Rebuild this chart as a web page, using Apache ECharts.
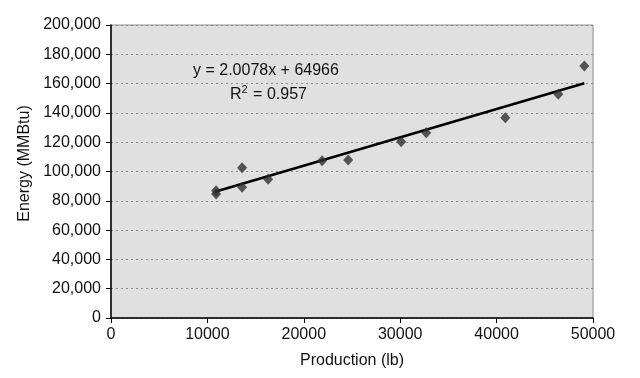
<!DOCTYPE html>
<html>
<head>
	<meta charset="utf-8"/>
	<title>Energy vs Production</title>
	<style>
		html, body { margin: 0; padding: 0; background: #fff; }
		#chart { width: 640px; height: 378px; }
	</style>
</head>
<body>
	<div id="chart"></div>
	<script src="https://cdn.jsdelivr.net/npm/echarts@6/dist/echarts.min.js"></script>
	<script>
		// values
		var productionLb = [10900, 10900, 13600, 13600, 16300, 21900, 24600, 30100, 32700, 40900, 46400, 49100];
		var energyMMBtu = [86900, 84600, 89200, 102600, 94700, 107400, 107800, 120300, 126500, 136700, 152700, 172000];
		// trend line ends
		var trendX = [10800, 49100];
		var trendY = [86200, 160200];
		var xTicks = [0, 10000, 20000, 30000, 40000, 50000];
		var yTicks = [0, 20000, 40000, 60000, 80000, 100000, 120000, 140000, 160000, 180000, 200000];
		var equationText = 'y = 2.0078x + 64966';
		var r2Text = '0.957';

		var font = '"Liberation Sans", Arial, sans-serif';

		var points = productionLb.map(function (x, i) { return [x, energyMMBtu[i]]; });
		var trend = trendX.map(function (x, i) { return [x, trendY[i]]; });

		var myChart = echarts.init(document.getElementById('chart'));

		var option = {
			backgroundColor: '#fff',
			animation: false,
			textStyle: { fontFamily: font },
			grid: {
				left: 111, right: 47, top: 25, bottom: 60,
				show: true,
				backgroundColor: '#e0e0e0',
				borderColor: '#8c8c8c',
				borderWidth: 1
			},
			xAxis: {
				type: 'value',
				min: xTicks[0],
				max: xTicks[xTicks.length - 1],
				interval: xTicks[1] - xTicks[0],
				name: 'Production (lb)',
				nameLocation: 'middle',
				nameGap: 35,
				nameTextStyle: { fontSize: 16, color: '#111', fontFamily: font },
				axisLine: { onZero: false, lineStyle: { color: '#000', width: 1.5 } },
				axisTick: { show: true, length: 5, lineStyle: { color: '#000' } },
				axisLabel: {
					fontSize: 16, color: '#111', margin: 9,
					formatter: function (v) { return String(v); }
				},
				splitLine: { show: false }
			},
			yAxis: {
				type: 'value',
				min: yTicks[0],
				max: yTicks[yTicks.length - 1],
				interval: yTicks[1] - yTicks[0],
				name: 'Energy (MMBtu)',
				nameLocation: 'middle',
				nameGap: 76,
				nameTextStyle: { fontSize: 16, color: '#111', fontFamily: font, padding: [0, 0, 0, 16] },
				axisLine: { show: true, onZero: false, lineStyle: { color: '#000', width: 1.5 } },
				axisTick: { show: true, length: 5, lineStyle: { color: '#000' } },
				axisLabel: { fontSize: 16, color: '#111', margin: 10 },
				splitLine: { show: true, lineStyle: { color: '#8a8a8a', type: [2, 3], width: 1 } }
			},
			series: [
				{
					type: 'line',
					data: trend,
					symbol: 'none',
					lineStyle: { color: '#000', width: 2.5 },
					z: 2
				},
				{
					type: 'scatter',
					data: points,
					symbol: 'diamond',
					symbolSize: [10, 11],
					itemStyle: { color: '#2e2e2e' },
					z: 3
				}
			],
			graphic: [
				{
					type: 'text',
					left: 193,
					top: 63,
					style: { text: equationText, fontSize: 16, fill: '#111', fontFamily: font }
				},
				{
					type: 'text',
					left: 230,
					top: 84,
					style: {
						text: 'R{sup|2} = ' + r2Text,
						fontSize: 16, fill: '#111', fontFamily: font,
						rich: { sup: { fontSize: 11, fill: '#111', verticalAlign: 'top', padding: [0, 1, 10, 0], fontFamily: font } }
					}
				}
			]
		};

		myChart.setOption(option);
	</script>
</body>
</html>
